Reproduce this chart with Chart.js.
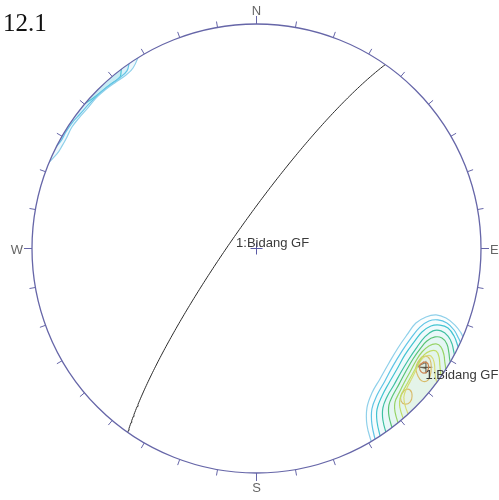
<!DOCTYPE html>
<html>
<head>
<meta charset="utf-8">
<script src="https://cdn.jsdelivr.net/npm/chart.js@4.4.1/dist/chart.umd.min.js"></script>
<style>
  html, body { margin: 0; padding: 0; background: #ffffff; }
  canvas { display: block; }
</style>
</head>
<body>
<canvas id="net" width="499" height="500"></canvas>
<script>
// ---- Data -------------------------------------------------------------
const netTitle = '12.1';
const planeName = '1:Bidang GF';
const planeDipDirection = 305;   // degrees
const planeDip = 81;             // degrees

const compassLabels = ['N', 'E', 'S', 'W'];
const compassAzimuths = [0, 90, 180, 270];
const tickAzimuthStep = 10;

// Pole-density contour lines (equal-area net units: primitive radius = 100,
// x = east, y = north). South-east cluster, outermost level first.
const contourLinesSE = [
  [[51.4,-87.1],[49.2,-78.6],[49.2,-71.0],[51.4,-64.4],[55.0,-58.1],[59.0,-51.0],[63.0,-44.3],[67.0,-38.5],[71.0,-33.2],[75.5,-30.5],[80.0,-29.6],[84.4,-31.0],[88.4,-34.1],[91.1,-37.6],[93.3,-41.6]],
  [[53.2,-86.6],[51.4,-78.2],[51.4,-71.5],[53.7,-65.3],[57.2,-59.0],[60.8,-52.3],[64.8,-45.7],[68.8,-39.9],[72.8,-35.0],[76.8,-32.3],[80.8,-31.8],[84.8,-33.2],[88.0,-36.3],[90.2,-40.3],[92.0,-43.4]],
  [[55.5,-85.3],[53.7,-77.3],[53.7,-71.5],[55.9,-65.7],[59.0,-59.9],[62.6,-53.7],[66.1,-47.4],[70.2,-41.6],[73.7,-37.2],[77.7,-34.5],[81.7,-34.1],[85.3,-35.4],[88.0,-39.0],[89.7,-43.4],[91.1,-47.0]],
  [[58.1,-83.5],[56.3,-76.4],[56.3,-71.0],[58.1,-66.1],[61.2,-60.8],[64.4,-55.0],[67.9,-49.2],[71.5,-43.9],[75.0,-39.4],[78.6,-36.7],[82.2,-36.7],[85.3,-39.0],[87.1,-42.5],[88.0,-46.5],[89.3,-50.6]],
  [[60.8,-81.3],[59.0,-74.6],[59.0,-69.7],[60.8,-65.3],[63.5,-60.4],[66.6,-54.6],[69.7,-49.2],[72.8,-44.8],[75.9,-41.2],[79.5,-39.4],[82.6,-39.9],[84.8,-42.5],[85.7,-46.5],[86.2,-50.1],[87.5,-53.2]],
  [[63.5,-79.1],[61.7,-72.8],[61.7,-68.4],[63.5,-64.4],[65.7,-59.9],[68.4,-55.0],[71.0,-50.1],[73.7,-46.1],[76.8,-43.4],[80.0,-42.5],[82.2,-43.9],[83.5,-47.4],[84.0,-51.4],[85.3,-55.5]],
  [[65.7,-76.8],[63.9,-71.0],[63.9,-67.0],[65.3,-63.5],[67.5,-59.5],[70.2,-54.6],[72.4,-50.6],[74.6,-47.4],[77.3,-45.7],[80.0,-45.7],[81.3,-48.3],[81.7,-52.3],[82.2,-56.3],[83.5,-59.0]],
  [[67.9,-74.6],[66.1,-69.7],[65.7,-65.7],[67.0,-62.1],[69.3,-57.7],[71.5,-53.2],[73.3,-49.7],[75.5,-47.9],[77.7,-47.9],[79.1,-50.6],[79.5,-55.0],[80.0,-58.6],[81.7,-60.8]],
  [[71.9,-50.6],[73.7,-48.3],[76.4,-48.3],[77.7,-51.0],[77.7,-55.0],[76.4,-58.6],[73.7,-59.0],[71.9,-56.8],[71.0,-53.2],[71.9,-50.6],[73.7,-48.3]],
  [[64.4,-65.3],[66.1,-63.0],[68.4,-63.0],[69.3,-65.7],[68.4,-68.4],[66.1,-69.3],[64.4,-67.9],[64.4,-65.3],[66.1,-63.0]],
  [[72.8,-51.9],[74.6,-50.6],[76.4,-51.4],[76.4,-54.1],[74.6,-55.5],[72.8,-54.1],[72.8,-51.9],[74.6,-50.6]]
];
const contourColorsSE = ['#8fd0ea','#5ec4e6','#3fc3d0','#3cbf9c','#5cc46a','#a2d65a','#d6e25a','#f2e070','#f2b860','#f2b860','#e07040'];
// Levels that run out to the primitive are closed outside it (hidden by the clip)
const outerClosureSE = [[100,-45],[80,-90]];

// North-west part of the same cluster (wrapped across the primitive).
const contourLinesNW = [
  [[-93.3,37.6],[-88.9,42.1],[-86.6,45.7],[-84.4,49.7],[-82.2,54.1],[-79.1,58.1],[-75.1,62.6],[-71.5,67.0],[-67.5,70.6],[-62.6,74.2],[-58.1,77.3],[-55.0,80.4],[-52.3,86.2]],
  [[-89.7,44.8],[-87.1,47.9],[-84.9,51.9],[-82.2,55.9],[-78.6,59.9],[-74.6,64.4],[-70.6,68.4],[-66.6,71.9],[-61.7,75.5],[-57.7,79.1],[-56.3,84.0]],
  [[-76.8,64.4],[-73.3,66.6],[-69.3,69.7],[-64.8,73.3],[-60.8,76.4],[-59.9,80.8]]
];
const contourColorsNW = ['#8fd0ea','#5ec4e6','#3fc3d0'];
const outerClosureNW = [[-40,115],[-115,40]];

// ---- Equal-area (Schmidt) lower-hemisphere projection ------------------
const RAD = Math.PI / 180;
function project(trend, plunge) {
  const r = 100 * Math.SQRT2 * Math.sin((90 - plunge) * RAD / 2);
  return { x: r * Math.sin(trend * RAD), y: r * Math.cos(trend * RAD) };
}
function greatCircle(dipDir, dip, step) {
  const s = (dipDir - 90) * RAD, d = dipDir * RAD, p = dip * RAD;
  const S = [Math.cos(s), Math.sin(s), 0];
  const D = [Math.cos(d) * Math.cos(p), Math.sin(d) * Math.cos(p), Math.sin(p)];
  const pts = [];
  for (let a = 0; a <= 180; a += step) {
    const c = Math.cos(a * RAD), sn = Math.sin(a * RAD);
    const n = c * S[0] + sn * D[0], e = c * S[1] + sn * D[1], dn = c * S[2] + sn * D[2];
    const plunge = Math.asin(Math.min(1, Math.max(-1, dn))) / RAD;
    const trend = Math.atan2(e, n) / RAD;
    pts.push(project(trend, plunge));
  }
  return pts;
}
const planeTrace = greatCircle(planeDipDirection, planeDip, 1);
const planeAnchor = project(planeDipDirection, planeDip);
const planePole = project(planeDipDirection + 180, 90 - planeDip);

const toXY = (arr) => arr.map(([x, y]) => ({ x, y }));
function tint(hex, a) {
  const n = parseInt(hex.slice(1), 16);
  return `rgba(${(n >> 16) & 255},${(n >> 8) & 255},${n & 255},${a})`;
}
const isLoop = (line) => line[0][0] === line[line.length - 2][0] && line[0][1] === line[line.length - 2][1];

// Pole symbol: cross with a small open triangle on its left
const poleSymbol = document.createElement('canvas');
poleSymbol.width = 30; poleSymbol.height = 16;
(function () {
  const c = poleSymbol.getContext('2d');
  c.strokeStyle = '#3a1c1c'; c.lineWidth = 1;
  c.beginPath();
  c.moveTo(9.5, 8.5); c.lineTo(21.5, 8.5);
  c.moveTo(15.5, 2.5); c.lineTo(15.5, 14.5);
  c.moveTo(6.5, 7.5); c.lineTo(15.5, 3.5);
  c.moveTo(6.5, 7.5); c.lineTo(15.5, 9.5);
  c.stroke();
})();

// ---- Datasets ---------------------------------------------------------
const datasets = [];
contourLinesSE.forEach((line, i) => datasets.push({
  data: toXY(isLoop(line) ? line : line.concat(outerClosureSE)),
  showLine: true, borderColor: contourColorsSE[i], borderWidth: 1.2,
  backgroundColor: tint(contourColorsSE[i], 0.03),
  pointRadius: 0, tension: 0.4, fill: 'shape'
}));
contourLinesNW.forEach((line, i) => datasets.push({
  data: toXY(line.concat(outerClosureNW)),
  showLine: true, borderColor: contourColorsNW[i], borderWidth: 1.2,
  backgroundColor: tint(contourColorsNW[i], 0.14),
  pointRadius: 0, tension: 0.4, fill: 'shape'
}));
datasets.push({
  data: planeTrace, showLine: true, borderColor: '#2b2b2b', borderWidth: 1,
  pointRadius: 0, tension: 0, fill: false
});
datasets.push({
  data: [{ x: 0, y: 0 }], pointStyle: 'cross', pointRadius: 6,
  borderColor: '#5a5aa6', borderWidth: 1, showLine: false
});
datasets.push({
  data: [planePole], pointStyle: poleSymbol, pointRadius: 8, showLine: false
});

// ---- Net frame, ticks and text ---------------------------------------
function netGeometry(chart) {
  const xs = chart.scales.x, ys = chart.scales.y;
  const cx = xs.getPixelForValue(0), cy = ys.getPixelForValue(0);
  const r = xs.getPixelForValue(100) - cx;
  return { xs, ys, cx, cy, r };
}

const stereonetFrame = {
  id: 'stereonetFrame',
  beforeDatasetsDraw(chart) {
    const { ctx } = chart;
    const g = netGeometry(chart);
    ctx.save();
    ctx.beginPath();
    ctx.arc(g.cx, g.cy, g.r, 0, Math.PI * 2);
    ctx.clip();
  },
  afterDatasetsDraw(chart) {
    const { ctx } = chart;
    ctx.restore();
    const g = netGeometry(chart);

    // primitive circle
    ctx.save();
    ctx.strokeStyle = '#6666a8';
    ctx.lineWidth = 1.3;
    ctx.beginPath();
    ctx.arc(g.cx, g.cy, g.r, 0, Math.PI * 2);
    ctx.stroke();

    // azimuth ticks
    ctx.lineWidth = 1;
    for (let az = 0; az < 360; az += tickAzimuthStep) {
      const len = compassAzimuths.includes(az) ? 8 : 6;
      const sx = Math.sin(az * RAD), sy = -Math.cos(az * RAD);
      ctx.beginPath();
      ctx.moveTo(g.cx + g.r * sx, g.cy + g.r * sy);
      ctx.lineTo(g.cx + (g.r + len) * sx, g.cy + (g.r + len) * sy);
      ctx.stroke();
    }

    // compass letters
    ctx.fillStyle = '#666666';
    ctx.font = '13px "Liberation Sans", Arial, sans-serif';
    compassLabels.forEach((lab, i) => {
      const az = compassAzimuths[i];
      const off = g.r + 9;
      if (az === 0) { ctx.textAlign = 'center'; ctx.textBaseline = 'alphabetic'; ctx.fillText(lab, g.cx, g.cy - off); }
      if (az === 180) { ctx.textAlign = 'center'; ctx.textBaseline = 'top'; ctx.fillText(lab, g.cx, g.cy + off); }
      if (az === 90) { ctx.textAlign = 'left'; ctx.textBaseline = 'middle'; ctx.fillText(lab, g.cx + off, g.cy + 2); }
      if (az === 270) { ctx.textAlign = 'right'; ctx.textBaseline = 'middle'; ctx.fillText(lab, g.cx - off, g.cy + 2); }
    });

    // plane and pole labels
    ctx.fillStyle = '#3a3a3a';
    ctx.textAlign = 'left';
    ctx.textBaseline = 'middle';
    const ax = g.xs.getPixelForValue(planeAnchor.x), ay = g.ys.getPixelForValue(planeAnchor.y);
    ctx.fillText(planeName, ax, ay + 9);
    const px = g.xs.getPixelForValue(planePole.x), py = g.ys.getPixelForValue(planePole.y);
    ctx.fillText(planeName, px, py + 9);

    // title
    ctx.fillStyle = '#111111';
    ctx.font = '25px "Liberation Serif", "Times New Roman", serif';
    ctx.textAlign = 'left';
    ctx.textBaseline = 'alphabetic';
    ctx.fillText(netTitle, 3, 31);
    ctx.restore();
  }
};

new Chart(document.getElementById('net'), {
  type: 'scatter',
  data: { datasets },
  options: {
    responsive: false,
    animation: false,
    events: [],
    layout: { padding: { left: 32, top: 24, right: 18, bottom: 27 } },
    scales: {
      x: { type: 'linear', min: -100, max: 100, display: false },
      y: { type: 'linear', min: -100, max: 100, display: false }
    },
    plugins: { legend: { display: false }, tooltip: { enabled: false }, title: { display: false } }
  },
  plugins: [stereonetFrame]
});
</script>
</body>
</html>
